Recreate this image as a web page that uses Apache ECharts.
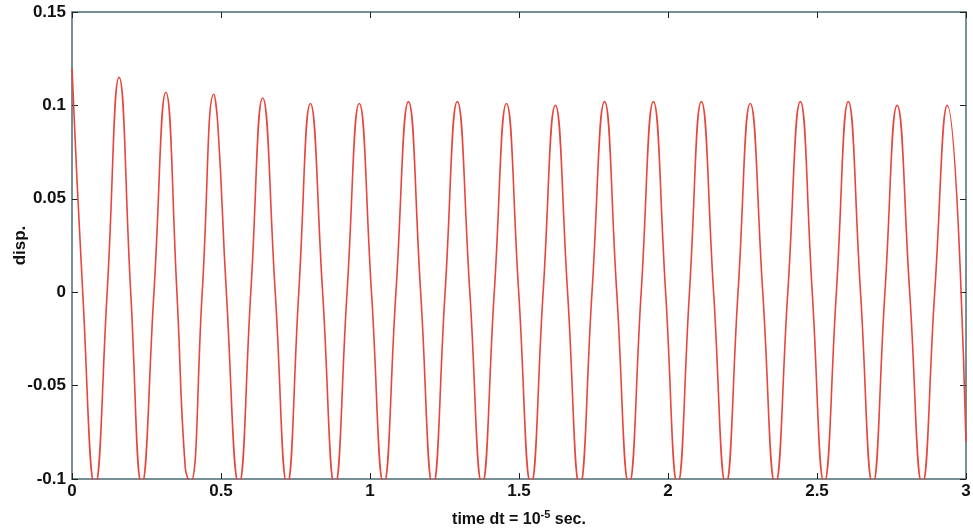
<!DOCTYPE html>
<html>
<head>
<meta charset="utf-8">
<script src="https://cdn.jsdelivr.net/npm/echarts@6/dist/echarts.min.js"></script>
<style>html,body{margin:0;padding:0;background:#fff}#chart{width:973px;height:531px}</style>
</head>
<body>
<div id="chart"></div>
<script>
// time samples (units of 1e-5 s) and displacement
var times = [0, 0.036, 0.077, 0.118, 0.158, 0.197, 0.234, 0.275, 0.315, 0.352, 0.38, 0.397, 0.437,
	0.476, 0.490, 0.518, 0.560, 0.600, 0.640, 0.682, 0.722, 0.761, 0.800, 0.841, 0.882, 0.923,
	0.964, 1.005, 1.046, 1.087, 1.129, 1.170, 1.211, 1.252, 1.293, 1.335, 1.376, 1.417, 1.458,
	1.499, 1.540, 1.581, 1.622, 1.663, 1.704, 1.745, 1.787, 1.828, 1.869, 1.910, 1.951, 1.992,
	2.032, 2.072, 2.112, 2.153, 2.194, 2.235, 2.276, 2.318, 2.360, 2.402, 2.444, 2.484, 2.524,
	2.565, 2.605, 2.646, 2.687, 2.728, 2.769, 2.811, 2.853, 2.895, 2.937, 3.0];
var disp = [0.120, 0.0, -0.104, 0.0, 0.115, 0.0, -0.103, 0.0, 0.107, 0.0, -0.094, -0.102, 0.0,
	0.106, 0.088, 0.0, -0.103, 0.0, 0.104, 0.0, -0.103, 0.0, 0.101, 0.0, -0.104, 0.0,
	0.101, 0.0, -0.103, 0.0, 0.102, 0.0, -0.104, 0.0, 0.102, 0.0, -0.103, 0.0, 0.101,
	0.0, -0.103, 0.0, 0.100, 0.0, -0.104, 0.0, 0.102, 0.0, -0.103, 0.0, 0.102, 0.0,
	-0.103, 0.0, 0.102, 0.0, -0.103, 0.0, 0.101, 0.0, -0.103, 0.0, 0.102, 0.0, -0.102,
	0.0, 0.102, 0.0, -0.103, 0.0, 0.100, 0.0, -0.103, 0.0, 0.100, -0.08];

var points = [];
for (var i = 0; i < times.length; i++) {
	points.push([times[i], disp[i]]);
}

var labelFont = {fontFamily: 'Liberation Sans', fontWeight: 'bold', fontSize: 17, color: '#111'};
var axisLine = {show: true, onZero: false, lineStyle: {color: '#4a6b73', width: 1.5}};
var tick = {show: true, inside: true, length: 6, lineStyle: {color: '#222'}};

var chart = echarts.init(document.getElementById('chart'));
chart.setOption({
	backgroundColor: '#fff',
	animation: false,
	grid: {left: 72, right: 7, top: 12, bottom: 52, containLabel: false, outerBoundsMode: 'none'},
	xAxis: [{
		type: 'value', min: 0, max: 3, interval: 0.5, position: 'bottom',
		axisLine: axisLine, axisTick: tick, splitLine: {show: false},
		axisLabel: Object.assign({margin: 4}, labelFont),
		name: '{a|time dt = 10}{s|-5}{a| sec.}', nameLocation: 'middle', nameGap: 30,
		nameTextStyle: {rich: {
			a: {fontFamily: 'Liberation Sans', fontWeight: 'bold', fontSize: 16, color: '#111'},
			s: {fontFamily: 'Liberation Sans', fontWeight: 'bold', fontSize: 11, color: '#111', verticalAlign: 'top', padding: [0, 0, 10, 0]}
		}}
	}, {
		type: 'value', min: 0, max: 3, interval: 0.5, position: 'top',
		axisLine: axisLine, axisTick: tick, axisLabel: {show: false}, splitLine: {show: false}
	}],
	yAxis: [{
		type: 'value', min: -0.1, max: 0.15, interval: 0.05, position: 'left',
		axisLine: axisLine, axisTick: tick, splitLine: {show: false},
		axisLabel: Object.assign({margin: 6, formatter: function (v) {
			return (Math.round(v * 100) / 100).toString();
		}}, labelFont),
		name: 'disp.', nameLocation: 'middle', nameGap: 43, nameRotate: 90, nameMoveOverlap: false,
		nameTextStyle: labelFont
	}, {
		type: 'value', min: -0.1, max: 0.15, interval: 0.05, position: 'right',
		axisLine: axisLine, axisTick: tick, axisLabel: {show: false}, splitLine: {show: false}
	}],
	series: [{
		type: 'line',
		data: points,
		smooth: 0.5,
		showSymbol: false,
		clip: true,
		lineStyle: {color: '#e8453c', width: 1.6}
	}]
});
</script>
</body>
</html>
